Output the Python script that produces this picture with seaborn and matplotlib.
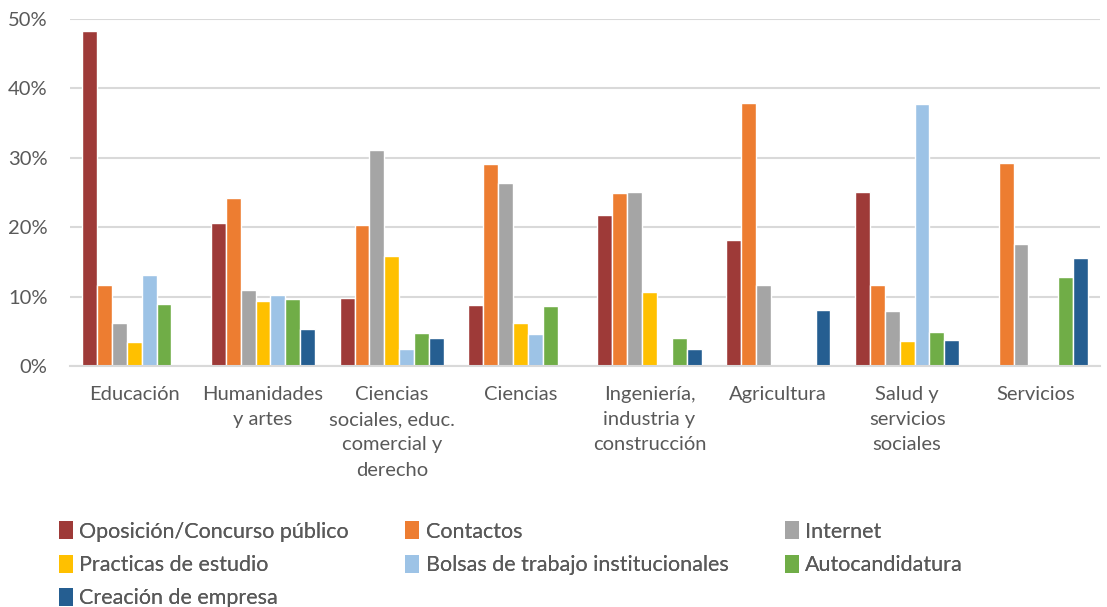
import matplotlib
matplotlib.use("Agg")
import matplotlib.pyplot as plt
import seaborn as sns
import pandas as pd
from matplotlib.patches import Patch
from matplotlib.ticker import FuncFormatter

categories = ["Educación", "Humanidades\ny artes", "Ciencias\nsociales, educ.\ncomercial y\nderecho",
              "Ciencias", "Ingeniería,\nindustria y\nconstrucción", "Agricultura",
              "Salud y\nservicios\nsociales", "Servicios"]
series = ["Oposición/Concurso público", "Contactos", "Internet", "Practicas de estudio",
          "Bolsas de trabajo institucionales", "Autocandidatura", "Creación de empresa"]

oposicion = [48.2, 20.6, 9.75, 8.75, 21.8, 18.2, 25.0, 0]
contactos = [11.6, 24.2, 20.3, 29.1, 24.9, 37.9, 11.6, 29.2]
internet = [6.15, 10.9, 31.1, 26.4, 25.1, 11.6, 7.9, 17.6]
practicas = [3.5, 9.4, 15.9, 6.2, 10.6, 0, 3.6, 0]
bolsas = [13.1, 10.2, 2.5, 4.6, 0, 0, 37.8, 0]
autocand = [9.0, 9.7, 4.75, 8.7, 4.1, 0, 4.95, 12.8]
creacion = [0, 5.4, 4.0, 0, 2.4, 8.1, 3.8, 15.6]

values = [oposicion, contactos, internet, practicas, bolsas, autocand, creacion]
colors = ["#9E3A38", "#ED7D31", "#A5A5A5", "#FFC000", "#9DC3E6", "#70AD47", "#255E91"]

rows = []
for s, vals in zip(series, values):
    for c, v in zip(categories, vals):
        rows.append({"cat": c, "serie": s, "val": v})
df = pd.DataFrame(rows)

sns.set_theme(style="white")
plt.rcParams["font.family"] = ["Lato", "DejaVu Sans"]

fig = plt.figure(figsize=(11.07, 6.07), dpi=100)
ax = fig.add_axes([0.063, 0.397, 0.931, 0.572])

sns.barplot(data=df, x="cat", y="val", hue="serie", order=categories, hue_order=series,
            palette=colors, width=0.81, edgecolor="white", linewidth=1.0,
            saturation=1, ax=ax, legend=False)

ax.set_ylim(0, 50)
ax.set_yticks([0, 10, 20, 30, 40, 50])
ax.yaxis.set_major_formatter(FuncFormatter(lambda v, p: f"{int(v)}%"))
ax.grid(axis="y", color="#D9D9D9", linewidth=1.5)
ax.set_axisbelow(True)
for sp in ["top", "right", "left"]:
    ax.spines[sp].set_visible(False)
ax.spines["bottom"].set_color("#D9D9D9")
ax.spines["bottom"].set_linewidth(1.5)
ax.set_xlabel("")
ax.set_ylabel("")
ax.tick_params(axis="both", length=0, colors="#595959", labelsize=14.5)
ax.tick_params(axis="x", pad=14.5)
ax.tick_params(axis="y", pad=16)
for lbl in ax.get_xticklabels():
    lbl.set_linespacing(1.58)

handles = [Patch(facecolor=c, edgecolor="none") for c in colors]
columns = [([0, 3, 6], 0.053), ([1, 4], 0.366), ([2, 5], 0.709)]
for idxs, x0 in columns:
    leg = fig.legend([handles[i] for i in idxs], [series[i] for i in idxs], ncol=1,
                     loc="upper left", bbox_to_anchor=(x0, 0.141), frameon=False,
                     fontsize=15.5, handlelength=0.65, handleheight=0.9, handletextpad=0.3,
                     labelspacing=0.6, borderpad=0, borderaxespad=0)
    for t in leg.get_texts():
        t.set_color("#595959")
    fig.add_artist(leg)

fig.savefig("out.png", dpi=100, facecolor="white")
